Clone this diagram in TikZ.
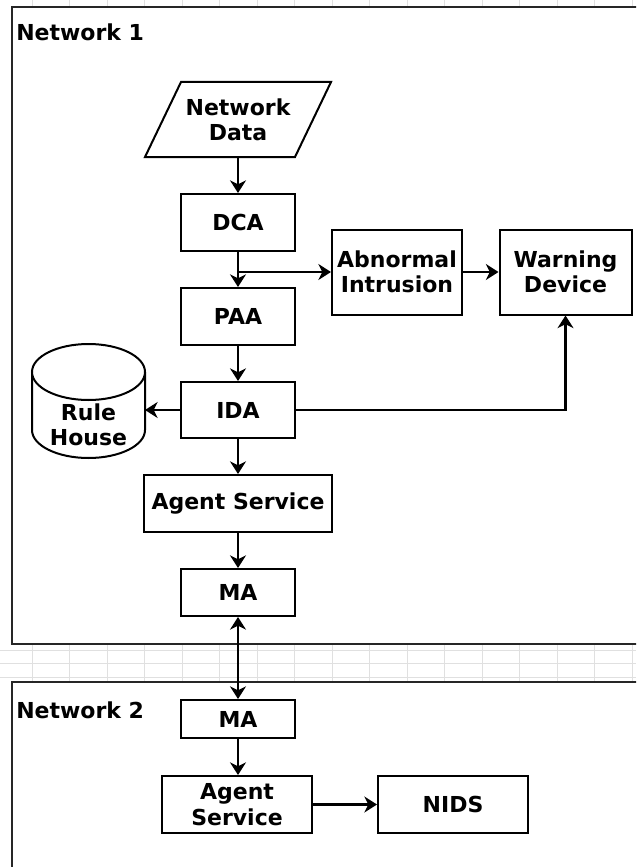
\documentclass[tikz,border=0pt]{standalone}
\usepackage{fontspec}
\setmainfont{DejaVu Sans}
\usetikzlibrary{arrows.meta,calc}
\tikzset{
  box/.style={draw=black, line width=1.5pt, fill=white, align=center, inner sep=0pt,
    font=\fontsize{16.5}{19}\selectfont\bfseries},
  lbl/.style={font=\fontsize{16.5}{19}\selectfont\bfseries, inner sep=0pt, anchor=west},
  frame/.style={draw=black!85, line width=1.7pt},
  arr/.style={draw=black, line width=1.7pt, -{Stealth[length=9.5pt,width=12pt,inset=3pt]}},
  darr/.style={draw=black, line width=1.7pt, {Stealth[length=9.5pt,width=12pt,inset=3pt]}-{Stealth[length=9.5pt,width=12pt,inset=3pt]}},
  gridln/.style={draw=black!12, line width=0.5pt}
}
\begin{document}
\begin{tikzpicture}[x=0.75pt,y=-0.75pt]
\clip (0,0) rectangle (636,867);
\fill[white] (0,0) rectangle (636,867);
% faint background grid (visible outside frames)
\foreach \x in {32,69.5,...,650} {\draw[gridln] (\x,0) -- (\x,867);}
\foreach \y in {650,663.5,677} {\draw[gridln] (0,\y) -- (636,\y);}
% frames
\draw[frame, fill=white] (12,7) rectangle (640,644);
\draw[frame, fill=white] (12,682) rectangle (640,880);
\node[lbl] (n1) at (16,32) {Network 1};
\node[lbl] (n2) at (16,710) {Network 2};
% Network data parallelogram
\draw[line width=1.5pt] (181,82) -- (331,82) -- (295,157) -- (145,157) -- cycle;
\node[box, draw=none, fill=none, minimum width=114pt, minimum height=56pt] (nd) at (238,119.5) {Network\\Data};
% boxes
\node[box, minimum width=85.5pt, minimum height=42.75pt] (dca) at (238,222.5) {DCA};
\node[box, minimum width=85.5pt, minimum height=42.75pt] (paa) at (238,316.5) {PAA};
\node[box, minimum width=85.5pt, minimum height=42pt] (ida) at (238,410) {IDA};
\node[box, minimum width=97.5pt, minimum height=63.75pt] (abn) at (397,272) {Abnormal\\Intrusion};
\node[box, minimum width=99pt, minimum height=63.75pt] (warn) at (565.5,272) {Warning\\Device};
\node[box, minimum width=141pt, minimum height=42.75pt] (as1) at (238,503.5) {Agent Service};
\node[box, minimum width=85.5pt, minimum height=35.25pt] (ma1) at (238,592.5) {MA};
\node[box, minimum width=85.5pt, minimum height=28.5pt] (ma2) at (238,719) {MA};
\node[box, minimum width=112.5pt, minimum height=42.75pt] (as2) at (237,804.5) {Agent\\Service};
\node[box, minimum width=112.5pt, minimum height=42.75pt] (nids) at (453,804.5) {NIDS};
% Rule House cylinder
\draw[line width=1.5pt, fill=white] (32,372) -- (32,430) arc[start angle=180,end angle=0,x radius=56.5,y radius=28] -- (145,372);
\draw[line width=1.5pt, fill=white] (88.5,372) ellipse[x radius=56.5,y radius=28];
\node[box, draw=none, fill=none, minimum width=84pt, minimum height=40pt] (rule) at (88.5,425) {Rule\\House};
\coordinate (ruleE) at (145,410);
% connectors
\draw[arr] (nd.south) -- (dca.north);
\draw[arr] (dca.south) -- (paa.north);
\draw[arr] (dca.south |- abn.west) -- (abn.west);
\draw[arr, line width=2.2pt] (abn.east) -- (warn.west);
\draw[arr] (paa.south) -- (ida.north);
\draw[arr] (ida.west) -- (ruleE);
\draw[arr] (ida.east) -| (warn.south);
\draw[arr] (ida.south) -- (as1.north);
\draw[arr] (as1.south) -- (ma1.north);
\draw[darr] (ma1.south) -- (ma2.north);
\draw[arr] (ma2.south) -- (ma2.south |- as2.north);
\draw[arr] (as2.east) -- (nids.west);
\end{tikzpicture}
\end{document}
